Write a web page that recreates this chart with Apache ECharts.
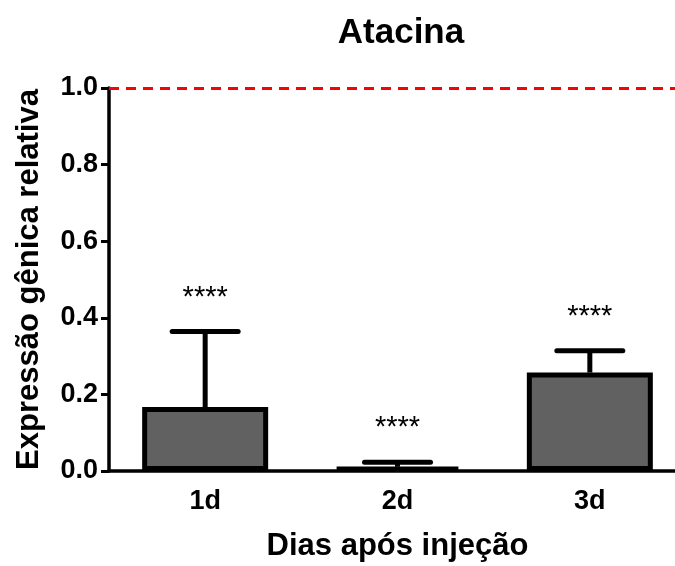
<!DOCTYPE html>
<html>
<head>
<meta charset="utf-8">
<script src="https://cdn.jsdelivr.net/npm/echarts@6/dist/echarts.min.js"></script>
<style>
html, body { margin: 0; padding: 0; background: #fff; }
#chart { width: 675px; height: 566px; }
</style>
</head>
<body>
<div id="chart"></div>
<script>
// data
var days = ['1d', '2d', '3d'];
var means = [0.167, 0.011, 0.257];
var upper = [0.364, 0.023, 0.314];
var stars = ['****', '****', '****'];
var yTicks = { min: 0, max: 1, step: 0.2 };
var refLevel = 1.0;

var FONT = 'Liberation Sans, Arial, sans-serif';

var chart = echarts.init(document.getElementById('chart'), null, { renderer: 'canvas' });

var option = {
    backgroundColor: '#fff',
    animation: false,
    title: {
        text: 'Atacina',
        left: 396,
        textAlign: 'center',
        top: 11,
        textStyle: { fontFamily: FONT, fontWeight: 'bold', fontSize: 35, color: '#000' }
    },
    grid: {
        left: 109,
        top: 88,
        width: 577,
        bottom: 95,
        containLabel: false,
        outerBoundsMode: 'none'
    },
    xAxis: {
        type: 'category',
        data: days,
        name: 'Dias após injeção',
        nameLocation: 'middle',
        nameGap: 60,
        nameTextStyle: { fontFamily: FONT, fontWeight: 'bold', fontSize: 31, color: '#000' },
        axisLine: { lineStyle: { color: '#000', width: 3.5 } },
        axisTick: { alignWithLabel: true, length: 8, lineStyle: { color: '#000', width: 3 } },
        axisLabel: { fontFamily: FONT, fontWeight: 'bold', fontSize: 27, color: '#000', margin: 17 }
    },
    yAxis: {
        type: 'value',
        min: yTicks.min,
        max: yTicks.max,
        interval: yTicks.step,
        name: 'Expressão gênica relativa',
        nameLocation: 'middle',
        nameGap: 64,
        nameTextStyle: { fontFamily: FONT, fontWeight: 'bold', fontSize: 31, color: '#000' },
        axisLine: { show: true, lineStyle: { color: '#000', width: 3.5 } },
        axisTick: { show: true, length: 8, lineStyle: { color: '#000', width: 3 } },
        splitLine: { show: false },
        axisLabel: {
            fontFamily: FONT, fontWeight: 'bold', fontSize: 27, color: '#000', margin: 11,
            formatter: function (v) { return v.toFixed(1); }
        }
    },
    series: [
        {
            type: 'bar',
            data: means,
            barWidth: 126,
            itemStyle: { color: '#616161', borderColor: '#000', borderWidth: 5 },
            markLine: {
                silent: true,
                symbol: ['none', 'none'],
                label: { show: false },
                lineStyle: { color: '#ff0000', type: [10, 7], width: 3 },
                data: [{ yAxis: refLevel }]
            },
            z: 2
        },
        {
            type: 'custom',
            data: days.map(function (d, i) { return [i, means[i], upper[i]]; }),
            renderItem: function (params, api) {
                var base = api.coord([api.value(0), api.value(1)]);
                var top = api.coord([api.value(0), api.value(2)]);
                var half = 33;
                return {
                    type: 'group',
                    children: [
                        {
                            type: 'line',
                            shape: { x1: base[0], y1: base[1], x2: top[0], y2: top[1] },
                            style: { stroke: '#000', lineWidth: 5 }
                        },
                        {
                            type: 'line',
                            shape: { x1: top[0] - half, y1: top[1], x2: top[0] + half, y2: top[1] },
                            style: { stroke: '#000', lineWidth: 5, lineCap: 'round' }
                        },
                        {
                            type: 'text',
                            style: {
                                text: stars[params.dataIndex],
                                x: top[0], y: top[1] - 34,
                                align: 'center', verticalAlign: 'middle',
                                font: '29px ' + FONT, fill: '#000'
                            }
                        }
                    ]
                };
            },
            z: 1
        }
    ]
};

chart.setOption(option);
</script>
</body>
</html>
